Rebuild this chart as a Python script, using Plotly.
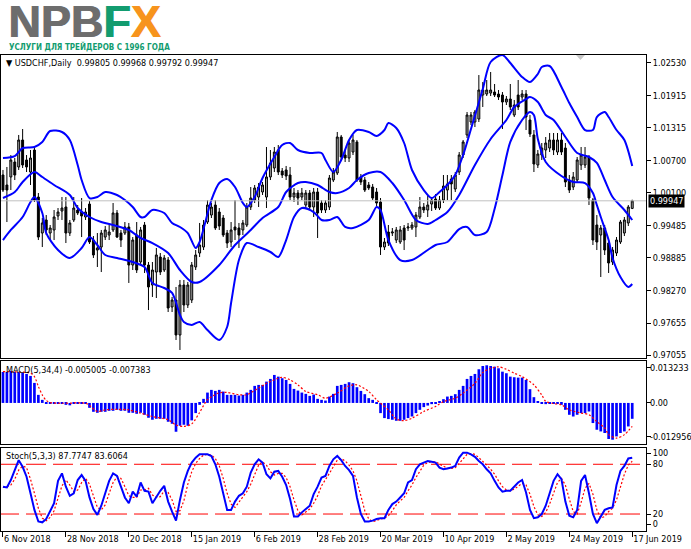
import plotly.graph_objects as go

W, H = 691, 549

# ---------------- data ----------------
bar_index = list(range(161))

open_ = [1.00430, 1.00243, 1.00393, 1.00673, 1.00580, 1.01085, 1.00711, 1.00486, 1.00898, 1.00018,
         0.99344, 0.99588, 0.99344, 0.99401, 0.99663, 0.99756, 0.99831, 0.99344, 0.99588, 0.99775,
         0.99737, 0.99644, 0.99887, 0.99213, 0.99026, 0.99082, 0.99269, 0.99307, 0.99401, 0.99719,
         0.99344, 0.99344, 0.99457, 0.98745, 0.99307, 0.98802, 0.99494, 0.98745, 0.98371, 0.98614,
         0.98895, 0.98652, 0.98839, 0.97960, 0.98090, 0.97436, 0.98371, 0.97997, 0.98090, 0.98708,
         0.98970, 0.99082, 0.99550, 0.99681, 0.99868, 0.99737, 0.99625, 0.99344, 0.99176, 0.99457,
         0.99438, 0.99401, 0.99494, 0.99831, 0.99962, 1.00018, 1.00112, 1.00018, 1.00393, 1.00561,
         1.00898, 1.00505, 1.00524, 1.00430, 1.00018, 1.00093, 1.00018, 0.99868, 1.00093, 0.99831,
         1.00112, 0.99906, 0.99775, 0.99831, 1.00336, 1.00467, 1.01141, 1.00804, 1.00748, 1.00860,
         1.01048, 1.00393, 1.00336, 1.00243, 1.00205, 1.00112, 0.99925, 0.99082, 0.99363, 0.99344,
         0.99213, 0.99176, 0.99438, 0.99438, 0.99438, 0.99457, 0.99644, 0.99831, 0.99775, 0.99887,
         0.99981, 0.99812, 0.99962, 1.00149, 1.00355, 1.00168, 1.00486, 1.00804, 1.01179, 1.01422,
         1.01422, 1.01478, 1.01927, 1.01946, 1.01964, 1.01983, 1.01946, 1.01927, 1.01796, 1.01852,
         1.01553, 1.01927, 1.01890, 1.01946, 1.01459, 1.01179, 1.00617, 1.00804, 1.00898, 1.00935,
         1.01085, 1.00860, 1.01085, 1.00935, 1.00336, 1.00205, 1.00336, 1.00617, 1.00617, 1.00767,
         0.99962, 0.99494, 0.99307, 0.99438, 0.99157, 0.98802, 0.98970, 0.99176, 0.99344, 0.99532,
         0.99805]
high = [1.00524, 1.00580, 1.00804, 1.00748, 1.01179, 1.01291, 1.00804, 1.00898, 1.00954, 1.00093,
        0.99625, 0.99681, 0.99494, 0.99775, 0.99812, 1.00018, 1.00018, 0.99588, 1.00018, 0.99868,
        0.99999, 0.99812, 0.99943, 0.99288, 0.99344, 0.99401, 0.99475, 0.99494, 0.99906, 0.99775,
        0.99401, 0.99550, 0.99532, 0.99269, 0.99550, 0.99457, 0.99550, 0.98802, 0.98802, 0.99064,
        0.98970, 0.98933, 0.98895, 0.98147, 0.98334, 0.98465, 0.98465, 0.98428, 0.98802, 0.99026,
        0.99532, 0.99588, 0.99962, 0.99906, 0.99962, 0.99812, 0.99681, 0.99401, 0.99550, 0.99962,
        0.99532, 0.99588, 0.99906, 1.00205, 1.00243, 1.00280, 1.00299, 1.00954, 1.00898, 1.00954,
        1.00991, 1.00561, 1.00599, 1.00580, 1.00187, 1.00149, 1.00187, 1.00149, 1.00149, 1.00187,
        1.00187, 0.99962, 0.99962, 1.00430, 1.00561, 1.01235, 1.01179, 1.00898, 1.01085, 1.01179,
        1.01085, 1.00449, 1.00393, 1.00299, 1.00262, 1.00187, 0.99999, 0.99251, 0.99494, 0.99438,
        0.99457, 0.99475, 0.99494, 0.99532, 0.99550, 0.99737, 1.00018, 0.99906, 1.00056, 1.00018,
        1.00074, 1.00037, 1.00430, 1.00430, 1.00430, 1.00486, 1.00860, 1.01085, 1.01609, 1.01609,
        1.01646, 1.02301, 1.02170, 1.02208, 1.02358, 1.02133, 1.02021, 1.01983, 1.01908, 1.02133,
        1.01834, 1.02208, 1.02021, 1.02021, 1.01553, 1.01272, 1.00898, 1.01029, 1.01141, 1.01216,
        1.01216, 1.01216, 1.01216, 1.01029, 1.00430, 1.00486, 1.00767, 1.00954, 1.00954, 1.00804,
        0.99999, 0.99681, 0.99494, 0.99494, 0.99213, 0.99082, 0.99269, 0.99588, 0.99644, 0.99868,
        0.99968]
low = [1.00112, 0.99550, 1.00149, 1.00336, 1.00524, 1.00561, 1.00486, 1.00243, 0.99925, 0.99213,
       0.99082, 0.99307, 0.99213, 0.99213, 0.99588, 0.99588, 0.99157, 0.99288, 0.99550, 0.99681,
       0.99269, 0.99588, 0.99139, 0.98877, 0.98708, 0.98614, 0.99213, 0.99213, 0.99363, 0.99251,
       0.99082, 0.99307, 0.98409, 0.98652, 0.98596, 0.98745, 0.98596, 0.97903, 0.98147, 0.98128,
       0.98558, 0.98614, 0.97866, 0.97866, 0.97342, 0.97155, 0.97866, 0.97941, 0.98034, 0.98652,
       0.98895, 0.99026, 0.99513, 0.99625, 0.99401, 0.99401, 0.99269, 0.99064, 0.99082, 0.99213,
       0.99064, 0.99307, 0.99457, 0.99775, 0.99906, 0.99831, 1.00056, 0.99812, 1.00336, 1.00486,
       1.00430, 1.00374, 1.00336, 0.99962, 0.99925, 0.99868, 0.99962, 0.99812, 0.99775, 0.99644,
       0.99251, 0.99719, 0.99719, 0.99775, 1.00299, 1.00430, 1.00711, 1.00673, 1.00673, 1.00804,
       1.00299, 1.00243, 1.00112, 1.00149, 0.99962, 0.99850, 0.98933, 0.99026, 0.99101, 0.99288,
       0.99157, 0.99139, 0.99026, 0.99382, 0.99401, 0.99269, 0.99606, 0.99719, 0.99644, 0.99756,
       0.99775, 0.99775, 0.99906, 0.99962, 0.99962, 1.00112, 1.00430, 1.00748, 1.01122, 1.01366,
       1.01328, 1.01422, 1.01703, 1.01908, 1.01908, 1.01890, 1.01834, 1.01291, 1.01740, 1.01646,
       1.01515, 1.01646, 1.01834, 1.01272, 1.01141, 1.00486, 1.00561, 1.00711, 1.00748, 1.00860,
       1.00804, 1.00804, 1.00804, 1.00205, 1.00093, 1.00149, 1.00299, 1.00524, 1.00561, 0.99868,
       0.99120, 0.99026, 0.98521, 0.98933, 0.98596, 0.98745, 0.98914, 0.99139, 0.99288, 0.99475,
       0.99792]
close = [1.00149, 1.00149, 1.00711, 1.00430, 1.01085, 1.00617, 1.00580, 1.00748, 0.99962, 0.99269,
         0.99532, 0.99401, 0.99438, 0.99644, 0.99737, 0.99812, 0.99344, 0.99532, 0.99812, 0.99719,
         0.99663, 0.99737, 0.99176, 0.98933, 0.99064, 0.99344, 0.99401, 0.99363, 0.99719, 0.99269,
         0.99213, 0.99457, 0.98745, 0.99213, 0.98652, 0.99401, 0.98745, 0.98334, 0.98652, 0.98933,
         0.98614, 0.98877, 0.97941, 0.98090, 0.97436, 0.98371, 0.97997, 0.98371, 0.98745, 0.98933,
         0.99120, 0.99494, 0.99868, 0.99831, 0.99438, 0.99475, 0.99307, 0.99157, 0.99401, 0.99401,
         0.99307, 0.99532, 0.99831, 0.99999, 1.00187, 1.00205, 1.00243, 1.00393, 1.00655, 1.00860,
         1.00486, 1.00430, 1.00411, 1.00018, 1.00093, 0.99999, 1.00093, 1.00093, 0.99831, 1.00112,
         0.99719, 0.99775, 0.99906, 1.00374, 1.00486, 1.01141, 1.00767, 1.00748, 1.01029, 1.01085,
         1.00336, 1.00299, 1.00149, 1.00187, 0.99999, 0.99906, 0.99082, 0.99176, 0.99157, 0.99363,
         0.99401, 0.99401, 0.99213, 0.99457, 0.99494, 0.99681, 0.99831, 0.99775, 0.99868, 0.99962,
         0.99812, 0.99962, 1.00224, 1.00262, 1.00262, 1.00430, 1.00804, 1.01048, 1.01553, 1.01553,
         1.01609, 1.02021, 1.02021, 1.02021, 1.02021, 1.01927, 1.01890, 1.01796, 1.01852, 1.01703,
         1.01740, 1.01703, 1.01946, 1.01515, 1.01197, 1.00636, 1.00823, 1.00935, 1.01029, 1.01085,
         1.00898, 1.01085, 1.00860, 1.00299, 1.00149, 1.00393, 1.00711, 1.00804, 1.00767, 0.99999,
         0.99213, 0.99176, 0.99438, 0.99026, 0.98783, 0.99026, 0.99213, 0.99550, 0.99588, 0.99831,
         0.99947]

# Bollinger bands
bb_up_idx = [0, 3, 5, 8, 10, 12, 15, 17, 19, 20, 22, 24, 26, 29, 31, 33, 35, 36, 38, 41, 43, 45, 47, 49, 50,
             53, 55, 57, 59, 61, 62, 64, 66, 69, 71, 73, 75, 78, 81, 82, 84, 86, 88, 90, 93, 95, 97, 98, 100,
             102, 104, 107, 109, 111, 113, 115, 117, 119, 122, 124, 127, 129, 132, 134, 136, 137, 139, 142,
             144, 146, 148, 150, 151, 153, 154, 156, 158, 160]
bb_up = [1.00748, 1.00785, 1.00935, 1.00954, 1.01048, 1.01253, 1.01235, 1.01085, 1.00617, 1.00336,
         0.99999, 1.00018, 1.00112, 1.00056, 0.99962, 0.99831, 0.99644, 0.99644, 0.99775, 0.99719,
         0.99532, 0.99457, 0.99344, 0.99064, 0.99176, 0.99962, 1.00280, 1.00355, 1.00205, 0.99906,
         0.99831, 1.00018, 1.00374, 1.00767, 1.00991, 1.01029, 1.00898, 1.00842, 1.00842, 1.00711,
         1.00486, 1.00711, 1.01085, 1.01272, 1.01235, 1.01160, 1.01272, 1.01403, 1.01310, 1.01029,
         1.00524, 1.00149, 0.99999, 1.00112, 1.00243, 1.00430, 1.00804, 1.01291, 1.02040, 1.02545,
         1.02676, 1.02526, 1.02264, 1.02170, 1.02320, 1.02451, 1.02470, 1.02077, 1.01777, 1.01515,
         1.01272, 1.01272, 1.01515, 1.01609, 1.01515, 1.01272, 1.01085, 1.00599]
bb_mid_idx = [0, 3, 5, 8, 10, 13, 17, 19, 22, 25, 28, 32, 35, 38, 42, 45, 48, 50, 55, 59, 63, 66, 70, 72, 75,
              77, 80, 83, 85, 88, 90, 93, 96, 99, 102, 105, 108, 110, 113, 116, 120, 124, 128, 130, 133,
              134, 136, 138, 140, 143, 146, 149, 151, 153, 155, 158, 160]
bb_mid = [0.99999, 1.00112, 1.00299, 1.00486, 1.00393, 1.00243, 1.00056, 0.99812, 0.99644, 0.99550,
          0.99494, 0.99401, 0.99251, 0.99157, 0.98970, 0.98652, 0.98428, 0.98428, 0.98745, 0.99120,
          0.99401, 0.99625, 0.99831, 1.00112, 1.00280, 1.00299, 1.00243, 1.00112, 1.00093, 1.00187,
          1.00336, 1.00467, 1.00486, 1.00280, 0.99962, 0.99588, 0.99513, 0.99588, 0.99737, 1.00056,
          1.00617, 1.01104, 1.01459, 1.01703, 1.01852, 1.01890, 1.01796, 1.01553, 1.01459, 1.01141,
          1.00842, 1.00767, 1.00655, 1.00336, 1.00018, 0.99775, 0.99588]
bb_low_idx = [0, 2, 5, 7, 8, 10, 11, 14, 17, 20, 22, 24, 26, 29, 33, 36, 38, 41, 43, 45, 46, 48, 50, 52, 55,
              57, 58, 60, 62, 65, 68, 70, 72, 74, 76, 79, 81, 83, 85, 87, 89, 93, 95, 96, 98, 101, 104, 108,
              110, 113, 116, 118, 120, 123, 125, 127, 129, 132, 134, 135, 136, 138, 142, 145, 148, 150, 151,
              152, 154, 155, 157, 159, 160]
bb_low = [0.99213, 0.99401, 0.99644, 0.99925, 1.00018, 0.99719, 0.99344, 0.99026, 0.98877, 0.99064,
          0.99269, 0.99120, 0.98933, 0.98877, 0.98802, 0.98708, 0.98409, 0.98315, 0.98222, 0.97810,
          0.97679, 0.97623, 0.97679, 0.97529, 0.97342, 0.97585, 0.98034, 0.98839, 0.99157, 0.99082,
          0.98989, 0.98895, 0.99213, 0.99644, 0.99812, 0.99737, 0.99588, 0.99588, 0.99644, 0.99457,
          0.99438, 0.99588, 0.99831, 0.99775, 0.99213, 0.98839, 0.98839, 0.99026, 0.99120, 0.99176,
          0.99419, 0.99457, 0.99307, 0.99363, 0.99794, 1.00430, 1.01048, 1.01459, 1.01609, 1.01553,
          1.01104, 1.00673, 1.00411, 1.00299, 1.00280, 1.00093, 0.99868, 0.99644, 0.99213, 0.98877,
          0.98521, 0.98334, 0.98390]

# MACD(5,34,4)
macd_main = [0.00978, 0.00978, 0.01009, 0.00978, 0.00978, 0.00946, 0.00915, 0.00852, 0.00632, 0.00255,
             0.00097, -0.00013, -0.00028, -0.00028, -0.00013, -0.00028, -0.00060, -0.00075, -0.00028, -0.00013,
             -0.00013, -0.00013, -0.00154, -0.00280, -0.00311, -0.00280, -0.00280, -0.00248, -0.00248, -0.00217,
             -0.00248, -0.00248, -0.00311, -0.00311, -0.00343, -0.00311, -0.00374, -0.00468, -0.00531, -0.00500,
             -0.00500, -0.00500, -0.00594, -0.00657, -0.00909, -0.00720, -0.00689, -0.00720, -0.00550, -0.00320,
             -0.00060, 0.00129, 0.00327, 0.00412, 0.00380, 0.00412, 0.00358, 0.00255, 0.00255, 0.00255,
             0.00233, 0.00255, 0.00327, 0.00412, 0.00538, 0.00569, 0.00569, 0.00673, 0.00758, 0.00883,
             0.00830, 0.00780, 0.00726, 0.00601, 0.00443, 0.00390, 0.00327, 0.00286, 0.00223, 0.00264,
             0.00129, 0.00097, 0.00075, 0.00201, 0.00286, 0.00538, 0.00569, 0.00601, 0.00654, 0.00623,
             0.00497, 0.00380, 0.00277, 0.00151, 0.00097, -0.00020, -0.00321, -0.00478, -0.00509, -0.00531,
             -0.00563, -0.00563, -0.00531, -0.00478, -0.00428, -0.00321, -0.00217, -0.00132, -0.00082, -0.00038,
             -0.00010, 0.00044, 0.00119, 0.00201, 0.00223, 0.00277, 0.00412, 0.00538, 0.00758, 0.00852,
             0.00915, 0.01063, 0.01166, 0.01188, 0.01166, 0.01144, 0.01094, 0.00987, 0.00937, 0.00830,
             0.00811, 0.00799, 0.00799, 0.00726, 0.00434, 0.00182, 0.00044, -0.00006, -0.00038, -0.00010,
             -0.00010, -0.00028, -0.00060, -0.00217, -0.00374, -0.00428, -0.00374, -0.00321, -0.00321, -0.00270,
             -0.00635, -0.00846, -0.00899, -0.00949, -0.01138, -0.01160, -0.01056, -0.00949, -0.00899, -0.00742,
             -0.005005]
macd_sig_idx = [0, 3, 7, 8, 9, 10, 11, 12, 15, 21, 22, 24, 26, 29, 32, 35, 38, 42, 44, 46, 48, 50, 52, 55, 57,
                60, 62, 65, 67, 70, 71, 73, 75, 77, 80, 82, 85, 88, 90, 93, 95, 98, 100, 102, 104, 107, 110,
                112, 115, 117, 120, 122, 124, 126, 128, 130, 132, 135, 137, 138, 140, 142, 144, 147, 149,
                151, 153, 154, 156, 158, 160]
macd_sig = [0.0099, 0.0098, 0.0094, 0.0083, 0.0052, 0.0025, 0.0008, 0.0001, -0.0001, -0.0001,
            -0.0008, -0.0027, -0.0022, -0.0020, -0.0022, -0.0032, -0.0043, -0.0053, -0.0070, -0.0074,
            -0.0066, -0.0030, 0.0010, 0.0032, 0.0033, 0.0026, 0.0026, 0.0047, 0.0062, 0.0078,
            0.0081, 0.0073, 0.0057, 0.0036, 0.0026, 0.0015, 0.0031, 0.0054, 0.0057, 0.0036,
            0.0010, -0.0022, -0.0051, -0.0056, -0.0048, -0.0027, -0.0011, 0.0004, 0.0015, 0.0031,
            0.0062, 0.0096, 0.0109, 0.0114, 0.0106, 0.0094, 0.0083, 0.0057, 0.0025, 0.0005,
            -0.0002, -0.0006, -0.0022, -0.0032, -0.0037, -0.0059, -0.0079, -0.0100, -0.0111, -0.0100,
            -0.007383]
macd_scale_text = ["0.013233", "0.00", "-0.012956"]

# Stochastic(5,3,3)
stoch_k = [53, 52, 61, 73, 85, 77, 65, 45, 25, 11, 10, 14, 24, 33, 60, 69, 53, 42, 45, 61,
           67, 60, 40, 26, 19, 30, 45, 60, 69, 66, 53, 40, 33, 47, 41, 58, 48, 47, 33, 41,
           48, 54, 35, 23, 12, 37, 58, 72, 82, 88, 92, 92, 92, 90, 80, 65, 45, 25, 25, 35,
           42, 45, 53, 70, 80, 86, 82, 68, 63, 71, 72, 65, 55, 38, 17, 17, 22, 26, 30, 44,
           53, 64, 66, 78, 86, 90, 85, 78, 73, 66, 40, 20, 11, 11, 12, 14, 15, 15, 25, 32,
           35, 40, 45, 58, 61, 74, 80, 82, 84, 83, 82, 76, 74, 75, 76, 78, 88, 94, 94, 92,
           89, 84, 80, 74, 69, 60, 52, 47, 48, 48, 53, 58, 61, 46, 25, 15, 16, 20, 30, 46,
           60, 68, 62, 35, 18, 16, 25, 60, 67, 45, 20, 9, 17, 25, 27, 28, 55, 72, 78, 87,
           87.7747]
stoch_d = [52, 53, 55, 62, 73, 78, 76, 62, 45, 27, 15, 12, 16, 24, 39, 54, 61, 55, 47, 49,
           58, 63, 56, 42, 28, 25, 31, 45, 58, 65, 63, 53, 42, 40, 40, 49, 49, 51, 43, 40,
           41, 48, 46, 37, 23, 24, 36, 56, 71, 81, 87, 91, 92, 91, 87, 78, 63, 45, 32, 28,
           34, 41, 47, 56, 68, 79, 83, 79, 71, 67, 69, 69, 64, 53, 37, 24, 19, 22, 26, 33,
           42, 54, 61, 69, 77, 85, 87, 84, 79, 72, 60, 42, 24, 14, 11, 12, 14, 15, 18, 24,
           31, 36, 40, 48, 55, 64, 72, 79, 82, 83, 83, 80, 77, 75, 75, 76, 81, 87, 92, 93,
           92, 88, 84, 79, 74, 68, 60, 53, 49, 48, 50, 53, 57, 55, 44, 29, 19, 17, 22, 32,
           45, 58, 63, 55, 38, 23, 20, 34, 51, 57, 44, 25, 15, 17, 23, 27, 37, 52, 68, 79,
           83.6064]
stoch_levels = [20, 80]

price_tick_vals = [1.02530, 1.01915, 1.01315, 1.00700, 1.00100, 0.99485, 0.98885, 0.98270, 0.97655, 0.97055]
price_tick_text = ["1.02530", "1.01915", "1.01315", "1.00700", "1.00100",
                   "0.99485", "0.98885", "0.98270", "0.97655", "0.97055"]
date_tick_idx = [0, 16, 32, 48, 64, 80, 96, 112, 128, 144, 160]
date_tick_text = ["6 Nov 2018", "28 Nov 2018", "20 Dec 2018", "15 Jan 2019", "6 Feb 2019",
                  "28 Feb 2019", "20 Mar 2019", "10 Apr 2019", "2 May 2019", "24 May 2019", "17 Jun 2019"]
last_price = 0.99947

# ---------------- layout helpers ----------------
def py(px):
    return 1 - px / H

def pxx(px):
    return px / W

FONT = "DejaVu Sans Condensed, Liberation Sans, Arial, sans-serif"
BLUE = "#0000ff"
RED = "#ff0000"

fig = go.Figure()

fig.add_trace(go.Candlestick(
    x=bar_index, open=open_, high=high, low=low, close=close,
    increasing=dict(fillcolor="#a4a4a4", line=dict(color="#000000", width=1)),
    decreasing=dict(fillcolor="#000000", line=dict(color="#000000", width=1)),
    whiskerwidth=0, xaxis="x", yaxis="y", showlegend=False, hoverinfo="skip"))

for xi, yv in [(bb_up_idx, bb_up), (bb_mid_idx, bb_mid), (bb_low_idx, bb_low)]:
    fig.add_trace(go.Scatter(x=xi, y=yv, mode="lines",
                             line=dict(color=BLUE, width=2, shape="spline", smoothing=0.8),
                             xaxis="x", yaxis="y", showlegend=False, hoverinfo="skip"))

fig.add_trace(go.Scatter(x=[-1, 170], y=[last_price, last_price], mode="lines",
                         line=dict(color="#c0c0c0", width=1), xaxis="x", yaxis="y",
                         showlegend=False, hoverinfo="skip"))

fig.add_trace(go.Bar(x=bar_index, y=macd_main, width=0.68, marker=dict(color=BLUE, line=dict(width=0)),
                     xaxis="x2", yaxis="y2", showlegend=False, hoverinfo="skip"))
fig.add_trace(go.Scatter(x=macd_sig_idx, y=macd_sig, mode="lines",
                         line=dict(color=RED, width=1.2, dash="2px,2px", shape="spline", smoothing=0.8),
                         xaxis="x2", yaxis="y2", showlegend=False, hoverinfo="skip"))

for lv in stoch_levels:
    fig.add_trace(go.Scatter(x=[-1, 170], y=[lv, lv], mode="lines",
                             line=dict(color=RED, width=1, dash="20px,7px"),
                             xaxis="x3", yaxis="y3", showlegend=False, hoverinfo="skip"))
fig.add_trace(go.Scatter(x=bar_index, y=stoch_d, mode="lines",
                         line=dict(color=RED, width=1.2, dash="2px,2px"),
                         xaxis="x3", yaxis="y3", showlegend=False, hoverinfo="skip"))
fig.add_trace(go.Scatter(x=bar_index, y=stoch_k, mode="lines",
                         line=dict(color=BLUE, width=2),
                         xaxis="x3", yaxis="y3", showlegend=False, hoverinfo="skip"))

xdom = [pxx(1), pxx(646)]
xr = [-0.5, 163.5]
common_x = dict(domain=xdom, range=xr, showgrid=False, zeroline=False, showline=True, mirror=True,
                linecolor="#000000", linewidth=1, fixedrange=True, automargin=False)
common_y = dict(showgrid=False, zeroline=False, showline=True, mirror=True, linecolor="#000000",
                linewidth=1, side="right", ticks="outside", ticklen=4, tickcolor="#000000",
                tickfont=dict(family=FONT, size=9, color="#000000"), fixedrange=True, automargin=False)

macd_tick_vals = [0.01104, 0.0, -0.01066]

fig.update_layout(
    width=W, height=H, margin=dict(l=0, r=0, t=0, b=0, autoexpand=False),
    paper_bgcolor="white", plot_bgcolor="white", boxgap=0.3,
    xaxis=dict(**common_x, anchor="y", showticklabels=False, ticks="", rangeslider=dict(visible=False)),
    xaxis2=dict(**common_x, anchor="y2", showticklabels=False, ticks=""),
    xaxis3=dict(**common_x, anchor="y3", tickmode="array", tickvals=date_tick_idx, ticktext=date_tick_text,
                ticks="outside", ticklen=5, tickcolor="#000000", ticklabelposition="outside right",
                tickangle=0, tickfont=dict(family=FONT, size=9, color="#000000")),
    yaxis=dict(**common_y, anchor="x", domain=[py(358), py(55)], range=[0.97005, 1.02676],
               tickmode="array", tickvals=price_tick_vals, ticktext=price_tick_text),
    yaxis2=dict(**common_y, anchor="x2", domain=[py(444), py(361)], range=[-0.012956, 0.013233],
                tickmode="array", tickvals=macd_tick_vals, showticklabels=False),
    yaxis3=dict(**common_y, anchor="x3", domain=[py(530.6), py(447.7)], range=[0, 100],
                tickmode="array", tickvals=[93.6, 80, 20, 7.9], ticktext=["100", "80", "20", "0"]),
    showlegend=False,
)

ann = []
logo_text = "<b>NPB<span style='color:#129c6f'>F</span><span style='color:#f7941d'>X</span></b>"
for dx in (0, 1.2):
    ann.append(dict(xref="paper", yref="paper", x=pxx(6), y=py(21), xanchor="left", yanchor="middle",
                    xshift=dx, showarrow=False, text=logo_text,
                    font=dict(family="Liberation Sans, Arial, sans-serif", size=45, color="#6d6d6d")))
ann.append(dict(xref="paper", yref="paper", x=pxx(7), y=py(46), xanchor="left", yanchor="middle",
                showarrow=False, text="<b>УСЛУГИ ДЛЯ ТРЕЙДЕРОВ С 1996 ГОДА</b>",
                font=dict(family="Liberation Sans Narrow, DejaVu Sans Condensed, Arial Narrow, sans-serif",
                          size=8, color="#129c6f")))
ann.append(dict(xref="paper", yref="paper", x=pxx(4), y=py(63), xanchor="left", yanchor="middle",
                showarrow=False, text="▼ USDCHF,Daily  0.99805 0.99968 0.99792 0.99947",
                font=dict(family=FONT, size=9, color="#000000")))
ann.append(dict(xref="paper", yref="paper", x=pxx(4), y=py(370), xanchor="left", yanchor="middle",
                showarrow=False, text="MACD(5,34,4) -0.005005 -0.007383",
                font=dict(family=FONT, size=9, color="#000000")))
ann.append(dict(xref="paper", yref="paper", x=pxx(4), y=py(456), xanchor="left", yanchor="middle",
                showarrow=False, text="Stoch(5,3,3) 87.7747 83.6064",
                font=dict(family=FONT, size=9, color="#000000")))
for tv, tt in zip(macd_tick_vals, macd_scale_text):
    ann.append(dict(xref="paper", yref="y2", x=pxx(648), y=tv, xanchor="left", yanchor="middle",
                    showarrow=False, text=tt, font=dict(family=FONT, size=9, color="#000000")))
ann.append(dict(xref="paper", yref="y", x=pxx(648), y=last_price, xanchor="left", yanchor="middle",
                showarrow=False, text="0.99947", bgcolor="#000000", borderpad=1,
                font=dict(family=FONT, size=9, color="#ffffff")))
fig.update_layout(annotations=ann)

fig.add_shape(type="path", xref="paper", yref="paper",
              path=f"M {pxx(576)},{py(55)} L {pxx(585)},{py(55)} L {pxx(580.5)},{py(60)} Z",
              fillcolor="#c8c8c8", line=dict(width=0))

fig.write_html("out.html", config={"displayModeBar": False},
               post_script="document.body.style.margin='0px';document.body.style.overflow='hidden';")
